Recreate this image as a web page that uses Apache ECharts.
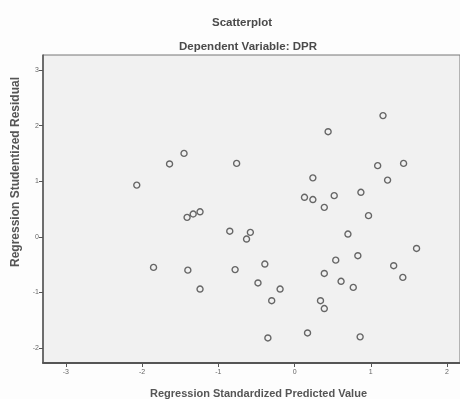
<!DOCTYPE html>
<html>
<head>
<meta charset="utf-8">
<script src="https://cdn.jsdelivr.net/npm/echarts@6/dist/echarts.min.js"></script>
<style>
  html, body { margin: 0; padding: 0; background: #fdfdfd; }
  #chart { width: 460px; height: 399px; }
</style>
</head>
<body>
<div id="chart"></div>
<script>
// predicted value (x) / studentized residual (y)
var predicted = [
  -1.45, -1.64, -0.76, -2.07, -1.41, -1.33, -1.24, -0.85, -0.58, -0.63,
  -1.85, -1.40, -0.78, -1.24, -0.39, -0.48, -0.19, -0.30, -0.35,
  1.16, 0.44, 1.09, 1.43, 0.24, 1.22, 0.13, 0.24, 0.52, 0.87, 0.39,
  0.97, 0.70, 1.60, 0.83, 0.54, 0.39, 1.30, 1.42, 0.61, 0.77, 0.34,
  0.39, 0.17, 0.86
]
var residual = [
  1.50, 1.31, 1.32, 0.93, 0.35, 0.41, 0.45, 0.10, 0.08, -0.04,
  -0.55, -0.60, -0.59, -0.94, -0.49, -0.83, -0.94, -1.15, -1.82,
  2.18, 1.89, 1.28, 1.32, 1.06, 1.02, 0.71, 0.67, 0.74, 0.80, 0.53,
  0.38, 0.05, -0.21, -0.34, -0.42, -0.66, -0.52, -0.73, -0.80, -0.91, -1.15,
  -1.29, -1.73, -1.80
]
var xTicks = [-3, -2, -1, 0, 1, 2]
var yTicks = [-2, -1, 0, 1, 2, 3]

var points = []
for (let i = 0; i < predicted.length; i++) {
  points.push([predicted[i], residual[i]])
}

var chart = echarts.init(document.getElementById('chart'))
var textGray = '#4a4a4a'
var option = {
  backgroundColor: '#fdfdfd',
  animation: false,
  title: [
    {
      text: 'Scatterplot',
      left: 237,
      top: 12,
      textAlign: 'center',
      textStyle: { fontFamily: 'Arial, Liberation Sans', fontSize: 11.5, fontWeight: 'bold', color: textGray },
    },
    {
      text: 'Dependent Variable: DPR',
      left: 243,
      top: 36,
      textAlign: 'center',
      textStyle: { fontFamily: 'Arial, Liberation Sans', fontSize: 11.5, fontWeight: 'bold', color: textGray },
    },
  ],
  grid: {
    left: 43,
    right: 0,
    top: 55,
    bottom: 36,
    outerBoundsMode: 'none',
    show: true,
    backgroundColor: '#f1f1f1',
    borderColor: '#777',
    borderWidth: 1,
  },
  xAxis: {
    type: 'value',
    min: -3.3,
    max: 2.17,
    name: 'Regression Standardized Predicted Value',
    nameLocation: 'middle',
    nameGap: 25,
    nameTextStyle: { fontFamily: 'Arial, Liberation Sans', fontSize: 11, fontWeight: 'bold', color: '#555', padding: [0, 0, 0, 14] },
    axisLine: { show: true, onZero: false, lineStyle: { color: '#555', width: 2 } },
    axisTick: { show: true, customValues: xTicks, length: 4, inside: false, lineStyle: { color: '#555' } },
    axisLabel: { customValues: xTicks, fontSize: 7, color: '#666', margin: 6 },
    splitLine: { show: false },
  },
  yAxis: {
    type: 'value',
    min: -2.27,
    max: 3.27,
    name: 'Regression Studentized Residual',
    nameLocation: 'middle',
    nameGap: 11,
    nameTextStyle: { fontFamily: 'Arial, Liberation Sans', fontSize: 12, fontWeight: 'bold', color: '#555', padding: [0, 0, 0, 74] },
    axisLine: { show: true, onZero: false, lineStyle: { color: '#555', width: 1.5 } },
    axisTick: { show: true, customValues: yTicks, length: 4, lineStyle: { color: '#555' } },
    axisLabel: { customValues: yTicks, fontSize: 7, color: '#666', margin: 4 },
    splitLine: { show: false },
  },
  series: [
    {
      type: 'scatter',
      symbol: 'circle',
      symbolSize: 6,
      itemStyle: {
        color: 'rgba(255,255,255,0)',
        borderColor: '#444',
        borderWidth: 1.4,
      },
      data: points,
    },
  ],
}
chart.setOption(option)
</script>
</body>
</html>
